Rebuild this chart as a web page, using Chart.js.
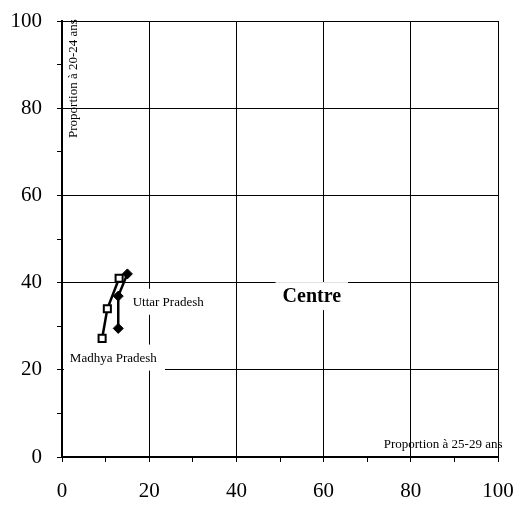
<!DOCTYPE html>
<html>
<head>
<meta charset="utf-8">
<script src="https://cdn.jsdelivr.net/npm/chart.js@4"></script>
<style>
  body { margin: 0; background: #fff; }
  #wrap { width: 515px; height: 506px; }
</style>
</head>
<body>
<div id="wrap"><canvas id="chart" width="515" height="506"></canvas></div>
<script>
// values
const madhyaX = [9.2, 10.4, 13.1]
const madhyaY = [27.2, 34.0, 41.0]
const uttarX = [12.9, 12.9, 15.0]
const uttarY = [29.5, 36.9, 42.0]

// text placed in the plot, in data units
const noteText = ['Uttar Pradesh', 'Madhya Pradesh', 'Centre']
const noteX = [16.2, 1.8, 57.3]
const noteY = [35.6, 22.8, 36.9]
const noteAlign = ['left', 'left', 'center']
const noteBold = [false, false, true]

const xTitle = 'Proportion à 25-29 ans'
const yTitle = 'Proportion à 20-24 ans'

const FONT = '"Liberation Serif", "Times New Roman", serif'

const toPoints = (xs, ys) => xs.map((x, i) => ({ x: x, y: ys[i] }))

const gridColour = ctx => (ctx.tick && ctx.tick.value % 20 === 0) ? '#000' : 'rgba(0,0,0,0)'
const tickLabel = v => (v % 20 === 0) ? v : ''

// white boxed labels, drawn over the grid but under the lines
const notesPlugin = {
  id: 'notes',
  beforeDatasetsDraw(chart) {
    const c = chart.ctx
    const xs = chart.scales.x
    const ys = chart.scales.y
    c.save()
    c.textBaseline = 'middle'
    noteText.forEach((t, i) => {
      c.font = (noteBold[i] ? 'bold 20px ' : '13px ') + FONT
      const w = c.measureText(t).width
      const px = xs.getPixelForValue(noteX[i])
      const py = ys.getPixelForValue(noteY[i])
      const left = noteAlign[i] === 'center' ? px - w / 2 : px
      const padX = 7
      const padY = noteBold[i] ? 14 : 13
      c.fillStyle = '#fff'
      c.fillRect(Math.max(left - padX, chart.chartArea.left + 2), py - padY, w + padX * 2, padY * 2)
      c.fillStyle = '#000'
      c.fillText(t, left, py + 1)
    })
    c.restore()
  },
  afterDatasetsDraw(chart) {
    const c = chart.ctx
    const xs = chart.scales.x
    const ys = chart.scales.y
    c.save()
    c.fillStyle = '#000'
    c.font = '13px ' + FONT
    c.textBaseline = 'middle'
    c.textAlign = 'center'
    c.fillText(xTitle, xs.getPixelForValue(87.4), ys.getPixelForValue(2.75))
    c.translate(xs.getPixelForValue(2.75), ys.getPixelForValue(86.8))
    c.rotate(-Math.PI / 2)
    c.fillText(yTitle, 0, 0)
    c.restore()
  }
}

new Chart(document.getElementById('chart'), {
  type: 'scatter',
  data: {
    datasets: [
      {
        data: toPoints(madhyaX, madhyaY),
        showLine: true,
        borderColor: '#000',
        borderWidth: 2.5,
        pointStyle: 'rect',
        pointRadius: 5,
        pointBackgroundColor: '#fff',
        pointBorderColor: '#000',
        pointBorderWidth: 2
      },
      {
        data: toPoints(uttarX, uttarY),
        showLine: true,
        borderColor: '#000',
        borderWidth: 2.5,
        pointStyle: 'rectRot',
        pointRadius: 5,
        pointBackgroundColor: '#000',
        pointBorderColor: '#000',
        pointBorderWidth: 1
      }
    ]
  },
  options: {
    responsive: false,
    animation: false,
    layout: { padding: { top: 21, right: 17, bottom: 0, left: 0 } },
    plugins: { legend: { display: false }, tooltip: { enabled: false } },
    scales: {
      x: {
        type: 'linear',
        min: 0,
        max: 100,
        afterFit: s => { s.height = 49; s.paddingLeft = 0; s.paddingRight = 0 },
        border: { color: '#000', width: 2 },
        grid: { color: gridColour, tickColor: '#000', tickLength: 5, lineWidth: 1 },
        ticks: {
          stepSize: 10,
          autoSkip: false,
          maxRotation: 0,
          padding: 17,
          color: '#000',
          font: { family: FONT, size: 21 },
          callback: tickLabel
        }
      },
      y: {
        type: 'linear',
        min: 0,
        max: 100,
        afterFit: s => { s.width = 62; s.paddingTop = 0; s.paddingBottom = 0 },
        border: { color: '#000', width: 2 },
        grid: { color: gridColour, tickColor: '#000', tickLength: 5, lineWidth: 1 },
        ticks: {
          stepSize: 10,
          autoSkip: false,
          padding: 15,
          color: '#000',
          font: { family: FONT, size: 21 },
          callback: tickLabel
        }
      }
    }
  },
  plugins: [notesPlugin]
})
</script>
</body>
</html>
